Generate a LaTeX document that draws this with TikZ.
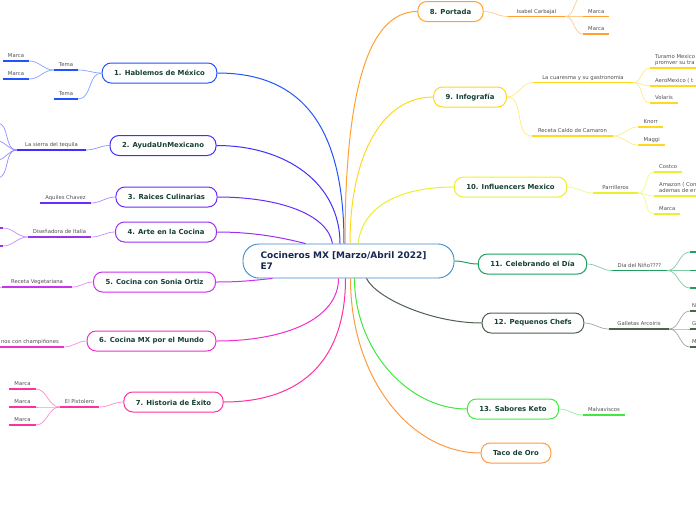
\documentclass[tikz,border=0pt]{standalone}
\usepackage{fontspec}
\setsansfont{DejaVu Sans}
\renewcommand{\familydefault}{\sfdefault}
\usepackage{tikz}
\definecolor{rootblue}{RGB}{58,140,205}
\definecolor{rootink}{RGB}{22,40,82}
\definecolor{topicink}{RGB}{22,64,52}
\definecolor{leafgray}{RGB}{78,78,78}
\definecolor{c1}{RGB}{33,84,255}
\definecolor{c2}{RGB}{62,48,255}
\definecolor{c3}{RGB}{106,43,255}
\definecolor{c4}{RGB}{154,48,240}
\definecolor{c5}{RGB}{204,48,240}
\definecolor{c6}{RGB}{238,48,204}
\definecolor{c7}{RGB}{255,48,160}
\definecolor{c8}{RGB}{255,160,48}
\definecolor{c9}{RGB}{255,216,32}
\definecolor{c10}{RGB}{234,240,48}
\definecolor{c11}{RGB}{32,160,96}
\definecolor{c12}{RGB}{80,96,80}
\definecolor{c13}{RGB}{64,232,64}
\definecolor{c14}{RGB}{255,154,64}
\newcommand{\leaffont}{\fontsize{5.3}{6.2}\selectfont}

\begin{document}
\begin{tikzpicture}[
  x=1pt, y=-1pt,
  root/.style={draw=rootblue, line width=0.9pt, rounded corners=16pt, fill=white,
               text=rootink, font=\fontsize{9}{11}\selectfont\bfseries, align=left,
               text width=176pt, inner xsep=17.5pt, minimum height=34pt},
  topic/.style={draw=#1, line width=1pt, rounded corners=9pt, fill=white, text=topicink,
                font=\fontsize{6.9}{8}\selectfont\bfseries, inner xsep=12pt, minimum height=20pt},
  leaf/.style={font=\leaffont, text=leafgray, inner xsep=5pt, inner ysep=2pt,
               text depth=1.2pt, anchor=south,
               append after command={(\tikzlastnode.south west) edge[draw=#1, line width=1.3pt]
                                     (\tikzlastnode.south east)}},
  link/.style={draw=#1, line width=1pt},
  twig/.style={draw=#1!55, line width=0.7pt}]
\useasboundingbox (0,0) rectangle (696,520);

% main topic
\node[root] (root) at (348.5,261) {Cocineros MX [Marzo/Abril 2022]\\E7};

% topics
\node[topic=c1] (t1) at (159.5,73) {1. Hablemos de México};
\node[topic=c2] (t2) at (163,145.5) {2. AyudaUnMexicano};
\node[topic=c3] (t3) at (166.5,197) {3. Raices Culinarias};
\node[topic=c4] (t4) at (166,232) {4. Arte en la Cocina};
\node[topic=c5] (t5) at (154.5,282) {5. Cocina con Sonia Ortiz};
\node[topic=c6] (t6) at (151.5,341) {6. Cocina MX por el Mundo};
\node[topic=c7] (t7) at (173.5,402) {7. Historia de Éxito};
\node[topic=c8] (t8) at (450.5,11.5) {8. Portada};
\node[topic=c9] (t9) at (470,97) {9. Infografía};
\node[topic=c10] (t10) at (510.5,187) {10. Influencers Mexico};
\node[topic=c11] (t11) at (532.5,264) {11. Celebrando el Día};
\node[topic=c12] (t12) at (533,323) {12. Pequenos Chefs};
\node[topic=c13] (t13) at (513,409) {13. Sabores Keto};
\node[topic=c14] (t14) at (516,453) {Taco de Oro};

% subtopics, left side
\node[leaf=c1] (l1a) at (66,70) {Tema};
\node[leaf=c1] (l1a1) at (16,61) {Marca};
\node[leaf=c1] (l1a2) at (16,79) {Marca};
\node[leaf=c1] (l1b) at (66,99) {Tema};
\node[leaf=c2, minimum width=69pt] (l2a) at (51.5,150) {La sierra del tequila};
\coordinate (l2a1) at (-3,123);
\coordinate (l2a2) at (-3,141);
\coordinate (l2a3) at (-3,160);
\coordinate (l2a4) at (-3,178);
\node[leaf=c3] (l3a) at (65.5,203) {Aquiles Chavez};
\node[leaf=c4] (l4a) at (59.5,237) {Diseñadora de Italia};
\node[leaf=c4, minimum width=30pt, anchor=south east] (l4a1) at (3,228) {};
\node[leaf=c4, minimum width=30pt, anchor=south east] (l4a2) at (3,246) {};
\node[leaf=c5, minimum width=70pt] (l5a) at (37,287) {Receta Vegetariana};
\coordinate (l5a1) at (-8,296);
\node[leaf=c6, anchor=south east] (l6a) at (64,347) {nos con champiñones};
\node[leaf=c7] (l7a) at (79.5,407) {El Pistolero};
\node[leaf=c7] (l7a1) at (22.5,389) {Marca};
\node[leaf=c7] (l7a2) at (22.5,407) {Marca};
\node[leaf=c7] (l7a3) at (22.5,425) {Marca};

% subtopics, right side
\node[leaf=c8, minimum width=57pt] (l8a) at (536.5,16.5) {Isabel Carbajal};
\coordinate (l8a1) at (583,-3);
\node[leaf=c8, minimum width=26pt, anchor=south west] (l8a2) at (583,16.5) {Marca};
\node[leaf=c8, minimum width=26pt, anchor=south west] (l8a3) at (583,34) {Marca};
\node[leaf=c9, minimum width=100pt] (l9a) at (583,82.5) {La cuaresma y su gastronomia};
\node[leaf=c9, anchor=south west, align=left] (l9a1) at (650,68) {Turamo Mexico\\promver su tra};
\node[leaf=c9, anchor=south west] (l9a2) at (650,86) {AeroMexico ( t};
\node[leaf=c9, anchor=south west, minimum width=27pt] (l9a3) at (650,103) {Volaris};
\node[leaf=c9, minimum width=81pt] (l9b) at (572.5,136) {Receta Caldo de Camaron};
\node[leaf=c9, anchor=south west, minimum width=25pt] (l9b1) at (638,127) {Knorr};
\node[leaf=c9, anchor=south west, minimum width=27pt] (l9b2) at (638,145) {Maggi};
\node[leaf=c10, minimum width=45pt] (l10a) at (615.5,193) {Parrilleros};
\node[leaf=c10, anchor=south west, minimum width=28pt] (l10a1) at (654,172) {Costco};
\node[leaf=c10, anchor=south west, align=left] (l10a2) at (654,196) {Amazon ( Con\\ademas de er};
\node[leaf=c10, anchor=south west, minimum width=25pt] (l10a3) at (654,214) {Marca};
\node[leaf=c11, minimum width=55pt] (l11a) at (639.5,270.5) {Dia del Niño????};
\node[leaf=c11, anchor=south west, minimum width=30pt] (l11a1) at (690,252) {};
\node[leaf=c11, anchor=south west, minimum width=30pt] (l11a2) at (690,270.5) {};
\node[leaf=c11, anchor=south west, minimum width=30pt] (l11a3) at (690,288) {};
\node[leaf=c12, minimum width=60pt] (l12a) at (639,329) {Galletas Arcoiris};
\node[leaf=c12, anchor=south west, inner xsep=2pt] (l12a1) at (690,311) {N};
\node[leaf=c12, anchor=south west, inner xsep=2pt] (l12a2) at (690,329) {G};
\node[leaf=c12, anchor=south west, inner xsep=2pt] (l12a3) at (690,347) {M};
\node[leaf=c13, minimum width=42pt] (l13a) at (604,415) {Malvaviscos};

% root to topics
\draw[link=c1] ([xshift=-4.5pt]root.north) .. controls +(0,-110) and +(90,0) .. (t1.east);
\draw[link=c2] ([xshift=-8.5pt]root.north) .. controls +(0,-60) and +(70,0) .. (t2.east);
\draw[link=c3] ([xshift=-16pt]root.north) .. controls +(-5,-30) and +(60,0) .. (t3.east);
\draw[link=c4] ([xshift=-43pt]root.north) .. controls +(-20,-5) and +(40,0) .. (t4.east);
\draw[link=c5] ([xshift=-76pt]root.south) .. controls +(-20,2) and +(25,0) .. (t5.east);
\draw[link=c6] ([xshift=-10pt]root.south) .. controls +(0,40) and +(70,0) .. (t6.east);
\draw[link=c7] ([xshift=-3pt]root.south) .. controls +(0,80) and +(80,0) .. (t7.east);
\draw[link=c8] ([xshift=-3.5pt]root.north) .. controls +(0,-150) and +(-50,0) .. (t8.west);
\draw[link=c9] ([xshift=1.5pt]root.north) .. controls +(0,-90) and +(-50,0) .. (t9.west);
\draw[link=c10] ([xshift=9.5pt]root.north) .. controls +(5,-40) and +(-50,0) .. (t10.west);
\draw[link=c11] (root.east) .. controls +(10,0) and +(-10,0) .. (t11.west);
\draw[link=c12] ([xshift=18pt]root.south) .. controls +(10,20) and +(-50,0) .. (t12.west);
\draw[link=c13] ([xshift=6pt]root.south) .. controls +(0,70) and +(-60,0) .. (t13.west);
\draw[link=c14] ([xshift=2pt]root.south) .. controls +(0,100) and +(-70,0) .. (t14.west);

% topics to subtopics, left
\draw[twig=c1] (t1.west) to[out=180,in=0] (l1a.south east);
\draw[twig=c1] (t1.west) to[out=180,in=0] (l1b.south east);
\draw[twig=c1] (l1a.south west) to[out=180,in=0] (l1a1.south east);
\draw[twig=c1] (l1a.south west) to[out=180,in=0] (l1a2.south east);
\draw[twig=c2] (t2.west) to[out=180,in=0] (l2a.south east);
\foreach \k in {1,...,4}
  \draw[twig=c2] (l2a.south west) to[out=180,in=0] (l2a\k);
\draw[twig=c3] (t3.west) to[out=180,in=0] (l3a.south east);
\draw[twig=c4] (t4.west) to[out=180,in=0] (l4a.south east);
\draw[twig=c4] (l4a.south west) to[out=180,in=0] (l4a1.south east);
\draw[twig=c4] (l4a.south west) to[out=180,in=0] (l4a2.south east);
\draw[twig=c5] (t5.west) to[out=180,in=0] (l5a.south east);
\draw[twig=c5] (l5a.south west) to[out=180,in=0] (l5a1);
\draw[twig=c6] (t6.west) to[out=180,in=0] (l6a.south east);
\draw[twig=c7] (t7.west) to[out=180,in=0] (l7a.south east);
\foreach \k in {1,2,3}
  \draw[twig=c7] (l7a.south west) to[out=180,in=0] (l7a\k.south east);

% topics to subtopics, right
\draw[twig=c8] (t8.east) to[out=0,in=180] (l8a.south west);
\draw[twig=c8] (l8a.south east) to[out=0,in=180] (l8a1);
\draw[twig=c8] (l8a.south east) to[out=0,in=180] (l8a2.south west);
\draw[twig=c8] (l8a.south east) to[out=0,in=180] (l8a3.south west);
\draw[twig=c9] (t9.east) to[out=0,in=180] (l9a.south west);
\draw[twig=c9] (t9.east) to[out=0,in=180] (l9b.south west);
\foreach \k in {1,2,3}
  \draw[twig=c9] (l9a.south east) to[out=0,in=180] (l9a\k.south west);
\foreach \k in {1,2}
  \draw[twig=c9] (l9b.south east) to[out=0,in=180] (l9b\k.south west);
\draw[twig=c10] (t10.east) to[out=0,in=180] (l10a.south west);
\foreach \k in {1,2,3}
  \draw[twig=c10] (l10a.south east) to[out=0,in=180] (l10a\k.south west);
\draw[twig=c11] (t11.east) to[out=0,in=180] (l11a.south west);
\foreach \k in {1,2,3}
  \draw[twig=c11] (l11a.south east) to[out=0,in=180] (l11a\k.south west);
\draw[twig=c12] (t12.east) to[out=0,in=180] (l12a.south west);
\foreach \k in {1,2,3}
  \draw[twig=c12] (l12a.south east) to[out=0,in=180] (l12a\k.south west);
\draw[twig=c13] (t13.east) to[out=0,in=180] (l13a.south west);
\end{tikzpicture}
\end{document}
